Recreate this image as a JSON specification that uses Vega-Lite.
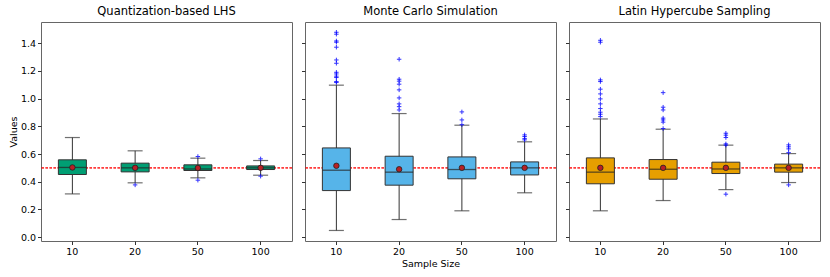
{
  "$schema": "https://vega.github.io/schema/vega-lite/v6.json",
  "padding": {"left": 7, "top": 5, "right": 5, "bottom": 5},
  "bounds": "flush",
  "spacing": 13,
  "config": {
    "font": "DejaVu Sans",
    "view": {"stroke": "#666", "strokeWidth": 1},
    "axis": {"domain": false, "grid": false, "tickColor": "#333", "tickSize": 3.5, "labelFontSize": 9.5, "labelColor": "#000", "labelOverlap": false, "titleFontSize": 9.5, "titleFontWeight": "normal", "titleColor": "#000", "labelPadding": 2, "titlePadding": 2},
    "title": {"fontSize": 11.5, "fontWeight": "normal", "color": "#000", "offset": 5}
  },
  "datasets": {
    "stats": [
      {"method": "Quantization-based LHS", "n": 10, "lo": 0.312, "q1": 0.452, "med": 0.503, "q3": 0.558, "hi": 0.719, "mean": 0.503},
      {"method": "Quantization-based LHS", "n": 20, "lo": 0.392, "q1": 0.471, "med": 0.500, "q3": 0.534, "hi": 0.623, "mean": 0.500},
      {"method": "Quantization-based LHS", "n": 50, "lo": 0.428, "q1": 0.481, "med": 0.492, "q3": 0.522, "hi": 0.570, "mean": 0.499},
      {"method": "Quantization-based LHS", "n": 100, "lo": 0.447, "q1": 0.488, "med": 0.500, "q3": 0.514, "hi": 0.553, "mean": 0.500},
      {"method": "Monte Carlo Simulation", "n": 10, "lo": 0.048, "q1": 0.336, "med": 0.483, "q3": 0.644, "hi": 1.097, "mean": 0.515},
      {"method": "Monte Carlo Simulation", "n": 20, "lo": 0.127, "q1": 0.375, "med": 0.469, "q3": 0.584, "hi": 0.892, "mean": 0.490},
      {"method": "Monte Carlo Simulation", "n": 50, "lo": 0.190, "q1": 0.421, "med": 0.488, "q3": 0.579, "hi": 0.808, "mean": 0.500},
      {"method": "Monte Carlo Simulation", "n": 100, "lo": 0.320, "q1": 0.449, "med": 0.500, "q3": 0.543, "hi": 0.688, "mean": 0.500},
      {"method": "Latin Hypercube Sampling", "n": 10, "lo": 0.190, "q1": 0.385, "med": 0.469, "q3": 0.572, "hi": 0.853, "mean": 0.500},
      {"method": "Latin Hypercube Sampling", "n": 20, "lo": 0.264, "q1": 0.418, "med": 0.490, "q3": 0.560, "hi": 0.779, "mean": 0.500},
      {"method": "Latin Hypercube Sampling", "n": 50, "lo": 0.343, "q1": 0.459, "med": 0.492, "q3": 0.541, "hi": 0.664, "mean": 0.500},
      {"method": "Latin Hypercube Sampling", "n": 100, "lo": 0.394, "q1": 0.469, "med": 0.500, "q3": 0.527, "hi": 0.603, "mean": 0.500}
    ],
    "outliers": [
      {"method": "Quantization-based LHS", "n": 20, "v": 0.377},
      {"method": "Quantization-based LHS", "n": 50, "v": 0.582},
      {"method": "Quantization-based LHS", "n": 50, "v": 0.411},
      {"method": "Quantization-based LHS", "n": 100, "v": 0.565},
      {"method": "Quantization-based LHS", "n": 100, "v": 0.440},
      {"method": "Monte Carlo Simulation", "n": 10, "v": 1.479},
      {"method": "Monte Carlo Simulation", "n": 10, "v": 1.465},
      {"method": "Monte Carlo Simulation", "n": 10, "v": 1.416},
      {"method": "Monte Carlo Simulation", "n": 10, "v": 1.407},
      {"method": "Monte Carlo Simulation", "n": 10, "v": 1.371},
      {"method": "Monte Carlo Simulation", "n": 10, "v": 1.279},
      {"method": "Monte Carlo Simulation", "n": 10, "v": 1.255},
      {"method": "Monte Carlo Simulation", "n": 10, "v": 1.190},
      {"method": "Monte Carlo Simulation", "n": 10, "v": 1.178},
      {"method": "Monte Carlo Simulation", "n": 10, "v": 1.162},
      {"method": "Monte Carlo Simulation", "n": 10, "v": 1.152},
      {"method": "Monte Carlo Simulation", "n": 10, "v": 1.123},
      {"method": "Monte Carlo Simulation", "n": 10, "v": 1.116},
      {"method": "Monte Carlo Simulation", "n": 20, "v": 1.284},
      {"method": "Monte Carlo Simulation", "n": 20, "v": 1.140},
      {"method": "Monte Carlo Simulation", "n": 20, "v": 1.126},
      {"method": "Monte Carlo Simulation", "n": 20, "v": 1.104},
      {"method": "Monte Carlo Simulation", "n": 20, "v": 1.063},
      {"method": "Monte Carlo Simulation", "n": 20, "v": 1.005},
      {"method": "Monte Carlo Simulation", "n": 20, "v": 0.962},
      {"method": "Monte Carlo Simulation", "n": 20, "v": 0.942},
      {"method": "Monte Carlo Simulation", "n": 20, "v": 0.918},
      {"method": "Monte Carlo Simulation", "n": 50, "v": 0.904},
      {"method": "Monte Carlo Simulation", "n": 50, "v": 0.846},
      {"method": "Monte Carlo Simulation", "n": 50, "v": 0.812},
      {"method": "Monte Carlo Simulation", "n": 100, "v": 0.738},
      {"method": "Monte Carlo Simulation", "n": 100, "v": 0.726},
      {"method": "Monte Carlo Simulation", "n": 100, "v": 0.711},
      {"method": "Monte Carlo Simulation", "n": 100, "v": 0.702},
      {"method": "Latin Hypercube Sampling", "n": 10, "v": 1.421},
      {"method": "Latin Hypercube Sampling", "n": 10, "v": 1.407},
      {"method": "Latin Hypercube Sampling", "n": 10, "v": 1.135},
      {"method": "Latin Hypercube Sampling", "n": 10, "v": 1.123},
      {"method": "Latin Hypercube Sampling", "n": 10, "v": 1.068},
      {"method": "Latin Hypercube Sampling", "n": 10, "v": 1.034},
      {"method": "Latin Hypercube Sampling", "n": 10, "v": 0.998},
      {"method": "Latin Hypercube Sampling", "n": 10, "v": 0.962},
      {"method": "Latin Hypercube Sampling", "n": 10, "v": 0.928},
      {"method": "Latin Hypercube Sampling", "n": 10, "v": 0.902},
      {"method": "Latin Hypercube Sampling", "n": 10, "v": 0.887},
      {"method": "Latin Hypercube Sampling", "n": 10, "v": 0.870},
      {"method": "Latin Hypercube Sampling", "n": 20, "v": 1.043},
      {"method": "Latin Hypercube Sampling", "n": 20, "v": 0.938},
      {"method": "Latin Hypercube Sampling", "n": 20, "v": 0.918},
      {"method": "Latin Hypercube Sampling", "n": 20, "v": 0.859},
      {"method": "Latin Hypercube Sampling", "n": 20, "v": 0.846},
      {"method": "Latin Hypercube Sampling", "n": 20, "v": 0.830},
      {"method": "Latin Hypercube Sampling", "n": 20, "v": 0.784},
      {"method": "Latin Hypercube Sampling", "n": 50, "v": 0.750},
      {"method": "Latin Hypercube Sampling", "n": 50, "v": 0.736},
      {"method": "Latin Hypercube Sampling", "n": 50, "v": 0.719},
      {"method": "Latin Hypercube Sampling", "n": 50, "v": 0.673},
      {"method": "Latin Hypercube Sampling", "n": 50, "v": 0.664},
      {"method": "Latin Hypercube Sampling", "n": 50, "v": 0.310},
      {"method": "Latin Hypercube Sampling", "n": 100, "v": 0.666},
      {"method": "Latin Hypercube Sampling", "n": 100, "v": 0.652},
      {"method": "Latin Hypercube Sampling", "n": 100, "v": 0.637},
      {"method": "Latin Hypercube Sampling", "n": 100, "v": 0.610},
      {"method": "Latin Hypercube Sampling", "n": 100, "v": 0.377}
    ]
  },
  "hconcat": [
    {
      "title": "Quantization-based LHS",
      "width": 251, "height": 219,
      "transform": [{"filter": "datum.method === 'Quantization-based LHS'"}],
      "data": {"name": "stats"},
      "encoding": {
        "x": {"field": "n", "type": "ordinal", "sort": [10, 20, 50, 100], "scale": {"type": "band", "paddingInner": 0, "paddingOuter": 0}, "axis": {"title": null, "labelAngle": 0}}
      },
      "layer": [
        {"mark": {"type": "rule", "color": "red", "strokeDash": [2.5, 1.5], "opacity": 0.4, "strokeWidth": 1.2}, "encoding": {"x": null, "y": {"datum": 0.5, "type": "quantitative", "scale": {"domain": [-0.028, 1.553], "nice": false, "zero": false}, "axis": {"title": "Values", "values": [0, 0.2, 0.4, 0.6, 0.8, 1.0, 1.2, 1.4], "format": ".1f"}}}},
        {"mark": {"type": "rule", "color": "#333", "strokeWidth": 1}, "encoding": {"y": {"field": "lo", "type": "quantitative", "axis": {"title": "Values", "values": [0, 0.2, 0.4, 0.6, 0.8, 1.0, 1.2, 1.4], "format": ".1f"}}, "y2": {"field": "hi"}}},
        {"mark": {"type": "tick", "color": "#333", "size": 15, "thickness": 1.2}, "encoding": {"y": {"field": "lo", "type": "quantitative", "axis": {"title": "Values", "values": [0, 0.2, 0.4, 0.6, 0.8, 1.0, 1.2, 1.4], "format": ".1f"}}}},
        {"mark": {"type": "tick", "color": "#333", "size": 15, "thickness": 1.2}, "encoding": {"y": {"field": "hi", "type": "quantitative", "axis": {"title": "Values", "values": [0, 0.2, 0.4, 0.6, 0.8, 1.0, 1.2, 1.4], "format": ".1f"}}}},
        {"mark": {"type": "bar", "size": 28, "fill": "#009E73", "stroke": "#333", "strokeWidth": 1}, "encoding": {"y": {"field": "q1", "type": "quantitative", "axis": {"title": "Values", "values": [0, 0.2, 0.4, 0.6, 0.8, 1.0, 1.2, 1.4], "format": ".1f"}}, "y2": {"field": "q3"}}},
        {"mark": {"type": "tick", "color": "#222", "size": 28, "thickness": 1.3}, "encoding": {"y": {"field": "med", "type": "quantitative", "axis": {"title": "Values", "values": [0, 0.2, 0.4, 0.6, 0.8, 1.0, 1.2, 1.4], "format": ".1f"}}}},
        {"data": {"name": "outliers"}, "transform": [{"filter": "datum.method === 'Quantization-based LHS'"}], "mark": {"type": "point", "shape": "M-1,0H1M0,-1V1", "stroke": "blue", "strokeWidth": 1, "size": 20, "opacity": 0.8}, "encoding": {"y": {"field": "v", "type": "quantitative", "axis": {"title": "Values", "values": [0, 0.2, 0.4, 0.6, 0.8, 1.0, 1.2, 1.4], "format": ".1f"}}}},
        {"mark": {"type": "point", "shape": "circle", "filled": true, "fill": "#b82025", "stroke": "#222", "strokeWidth": 0.8, "size": 30, "opacity": 1}, "encoding": {"y": {"field": "mean", "type": "quantitative", "axis": {"title": "Values", "values": [0, 0.2, 0.4, 0.6, 0.8, 1.0, 1.2, 1.4], "format": ".1f"}}}}
      ]
    },
    {
      "title": "Monte Carlo Simulation",
      "width": 251, "height": 219,
      "transform": [{"filter": "datum.method === 'Monte Carlo Simulation'"}],
      "data": {"name": "stats"},
      "encoding": {
        "x": {"field": "n", "type": "ordinal", "sort": [10, 20, 50, 100], "scale": {"type": "band", "paddingInner": 0, "paddingOuter": 0}, "axis": {"title": "Sample Size", "labelAngle": 0}}
      },
      "layer": [
        {"mark": {"type": "rule", "color": "red", "strokeDash": [2.5, 1.5], "opacity": 0.4, "strokeWidth": 1.2}, "encoding": {"x": null, "y": {"datum": 0.5, "type": "quantitative", "scale": {"domain": [-0.028, 1.553], "nice": false, "zero": false}, "axis": {"title": null, "labels": false, "values": [0, 0.2, 0.4, 0.6, 0.8, 1.0, 1.2, 1.4]}}}},
        {"mark": {"type": "rule", "color": "#333", "strokeWidth": 1}, "encoding": {"y": {"field": "lo", "type": "quantitative", "axis": {"title": null, "labels": false, "values": [0, 0.2, 0.4, 0.6, 0.8, 1.0, 1.2, 1.4]}}, "y2": {"field": "hi"}}},
        {"mark": {"type": "tick", "color": "#333", "size": 15, "thickness": 1.2}, "encoding": {"y": {"field": "lo", "type": "quantitative", "axis": {"title": null, "labels": false, "values": [0, 0.2, 0.4, 0.6, 0.8, 1.0, 1.2, 1.4]}}}},
        {"mark": {"type": "tick", "color": "#333", "size": 15, "thickness": 1.2}, "encoding": {"y": {"field": "hi", "type": "quantitative", "axis": {"title": null, "labels": false, "values": [0, 0.2, 0.4, 0.6, 0.8, 1.0, 1.2, 1.4]}}}},
        {"mark": {"type": "bar", "size": 28, "fill": "#56B4E9", "stroke": "#333", "strokeWidth": 1}, "encoding": {"y": {"field": "q1", "type": "quantitative", "axis": {"title": null, "labels": false, "values": [0, 0.2, 0.4, 0.6, 0.8, 1.0, 1.2, 1.4]}}, "y2": {"field": "q3"}}},
        {"mark": {"type": "tick", "color": "#222", "size": 28, "thickness": 1.3}, "encoding": {"y": {"field": "med", "type": "quantitative", "axis": {"title": null, "labels": false, "values": [0, 0.2, 0.4, 0.6, 0.8, 1.0, 1.2, 1.4]}}}},
        {"data": {"name": "outliers"}, "transform": [{"filter": "datum.method === 'Monte Carlo Simulation'"}], "mark": {"type": "point", "shape": "M-1,0H1M0,-1V1", "stroke": "blue", "strokeWidth": 1, "size": 20, "opacity": 0.8}, "encoding": {"y": {"field": "v", "type": "quantitative", "axis": {"title": null, "labels": false, "values": [0, 0.2, 0.4, 0.6, 0.8, 1.0, 1.2, 1.4]}}}},
        {"mark": {"type": "point", "shape": "circle", "filled": true, "fill": "#b82025", "stroke": "#222", "strokeWidth": 0.8, "size": 30, "opacity": 1}, "encoding": {"y": {"field": "mean", "type": "quantitative", "axis": {"title": null, "labels": false, "values": [0, 0.2, 0.4, 0.6, 0.8, 1.0, 1.2, 1.4]}}}}
      ]
    },
    {
      "title": "Latin Hypercube Sampling",
      "width": 251, "height": 219,
      "transform": [{"filter": "datum.method === 'Latin Hypercube Sampling'"}],
      "data": {"name": "stats"},
      "encoding": {
        "x": {"field": "n", "type": "ordinal", "sort": [10, 20, 50, 100], "scale": {"type": "band", "paddingInner": 0, "paddingOuter": 0}, "axis": {"title": null, "labelAngle": 0}}
      },
      "layer": [
        {"mark": {"type": "rule", "color": "red", "strokeDash": [2.5, 1.5], "opacity": 0.4, "strokeWidth": 1.2}, "encoding": {"x": null, "y": {"datum": 0.5, "type": "quantitative", "scale": {"domain": [-0.028, 1.553], "nice": false, "zero": false}, "axis": {"title": null, "labels": false, "values": [0, 0.2, 0.4, 0.6, 0.8, 1.0, 1.2, 1.4]}}}},
        {"mark": {"type": "rule", "color": "#333", "strokeWidth": 1}, "encoding": {"y": {"field": "lo", "type": "quantitative", "axis": {"title": null, "labels": false, "values": [0, 0.2, 0.4, 0.6, 0.8, 1.0, 1.2, 1.4]}}, "y2": {"field": "hi"}}},
        {"mark": {"type": "tick", "color": "#333", "size": 15, "thickness": 1.2}, "encoding": {"y": {"field": "lo", "type": "quantitative", "axis": {"title": null, "labels": false, "values": [0, 0.2, 0.4, 0.6, 0.8, 1.0, 1.2, 1.4]}}}},
        {"mark": {"type": "tick", "color": "#333", "size": 15, "thickness": 1.2}, "encoding": {"y": {"field": "hi", "type": "quantitative", "axis": {"title": null, "labels": false, "values": [0, 0.2, 0.4, 0.6, 0.8, 1.0, 1.2, 1.4]}}}},
        {"mark": {"type": "bar", "size": 28, "fill": "#E69F00", "stroke": "#333", "strokeWidth": 1}, "encoding": {"y": {"field": "q1", "type": "quantitative", "axis": {"title": null, "labels": false, "values": [0, 0.2, 0.4, 0.6, 0.8, 1.0, 1.2, 1.4]}}, "y2": {"field": "q3"}}},
        {"mark": {"type": "tick", "color": "#222", "size": 28, "thickness": 1.3}, "encoding": {"y": {"field": "med", "type": "quantitative", "axis": {"title": null, "labels": false, "values": [0, 0.2, 0.4, 0.6, 0.8, 1.0, 1.2, 1.4]}}}},
        {"data": {"name": "outliers"}, "transform": [{"filter": "datum.method === 'Latin Hypercube Sampling'"}], "mark": {"type": "point", "shape": "M-1,0H1M0,-1V1", "stroke": "blue", "strokeWidth": 1, "size": 20, "opacity": 0.8}, "encoding": {"y": {"field": "v", "type": "quantitative", "axis": {"title": null, "labels": false, "values": [0, 0.2, 0.4, 0.6, 0.8, 1.0, 1.2, 1.4]}}}},
        {"mark": {"type": "point", "shape": "circle", "filled": true, "fill": "#b82025", "stroke": "#222", "strokeWidth": 0.8, "size": 30, "opacity": 1}, "encoding": {"y": {"field": "mean", "type": "quantitative", "axis": {"title": null, "labels": false, "values": [0, 0.2, 0.4, 0.6, 0.8, 1.0, 1.2, 1.4]}}}}
      ]
    }
  ]
}
